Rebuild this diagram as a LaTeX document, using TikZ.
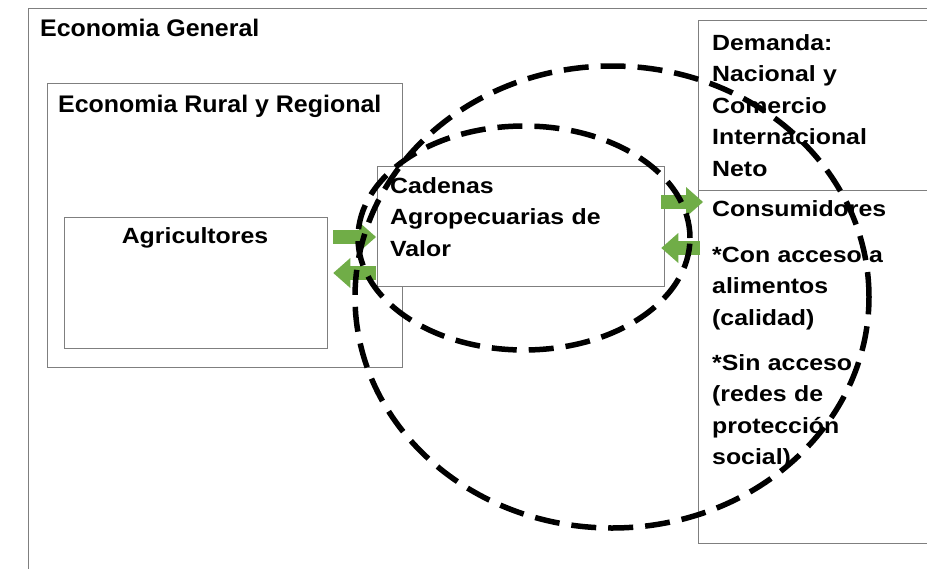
\documentclass[tikz,border=0pt]{standalone}
\usepackage{fontspec}
\setmainfont{Liberation Sans}
\newfontfamily\wideA{Liberation Sans}[FakeStretch=1.13]
\newfontfamily\wideB{Liberation Sans}[FakeStretch=1.04]
\usetikzlibrary{arrows.meta}
\definecolor{boxgray}{HTML}{7F7F7F}
\definecolor{agreen}{HTML}{70AD47}
\begin{document}
\begin{tikzpicture}[x=1pt,y=-1pt,
  box/.style={draw=boxgray, line width=1.3pt, fill=white, inner sep=0pt, anchor=north west},
  txtA/.style={font=\wideA\bfseries\fontsize{22}{31.5}\selectfont, inner sep=0pt, anchor=base},
  txtM/.style={font=\wideA\bfseries\fontsize{22}{31.5}\selectfont, inner sep=0pt, align=left, anchor=base west},
  txtB/.style={font=\wideB\bfseries\fontsize{24}{30}\selectfont, inner sep=0pt, anchor=base west},
  garrow/.style={draw=agreen, line width=14pt, -{Triangle[length=17pt,width=30pt,line width=0pt]}},
  dashring/.style={draw=black, line width=5.5pt, dash pattern=on 25pt off 12pt}]
\useasboundingbox (0,0) rectangle (927,568);
\clip (0,0) rectangle (927,568);
\fill[white] (0,0) rectangle (927,568);
% boxes
\node[box, minimum width=930pt, minimum height=600pt] (gen) at (28,8) {};
\node[box, minimum width=355pt, minimum height=284pt] (rural) at (47,83) {};
\node[box, minimum width=263pt, minimum height=131pt] (agri) at (64,217) {};
\node[box, minimum width=287pt, minimum height=120pt] (cad) at (377,166) {};
\node[box, minimum width=260pt, minimum height=170pt] (dem) at (698,20) {};
\node[box, minimum width=260pt, minimum height=353pt] (con) at (698,190) {};
% texts
\node[txtB] (tgen) at (40,36) {Economia General};
\node[txtB] (trur) at (58,112) {Economia Rural y Regional};
\node[txtA] (tagri) at (195,243) {Agricultores};
\node[txtM, text width=260pt] (tcad) at (390,193) {Cadenas\\Agropecuarias de\\Valor};
\node[txtM, text width=200pt] (tdem) at (712,50) {Demanda:\\Nacional y\\Comercio\\Internacional\\Neto};
\node[txtM, text width=210pt] (tcon) at (712,216) {Consumidores\\[14.5pt]*Con acceso a\\alimentos\\(calidad)\\[13.5pt]*Sin acceso\\(redes de\\protección\\social)};
% arrows
\coordinate (agE) at ([xshift=5pt]agri.east);
\coordinate (cadW) at ([xshift=-1pt]cad.west);
\coordinate (cadE) at ([xshift=-4pt]cad.east);
\coordinate (conW) at ([xshift=5pt]con.west);
\coordinate (conW2) at ([xshift=2pt]con.west);
\draw[garrow] (agE |- 0,237) -- (cadW |- 0,237);
\draw[garrow] (cadW |- 0,273) -- (agE |- 0,273);
\draw[garrow] (cadE |- 0,202) -- (conW |- 0,202);
\draw[garrow] (conW2 |- 0,248) -- (cadE |- 0,248);
% dashed rings
\draw[dashring] (612,297) ellipse [x radius=257pt, y radius=231pt];
\draw[dashring] (524,238) ellipse [x radius=166pt, y radius=112pt];
\end{tikzpicture}
\end{document}
